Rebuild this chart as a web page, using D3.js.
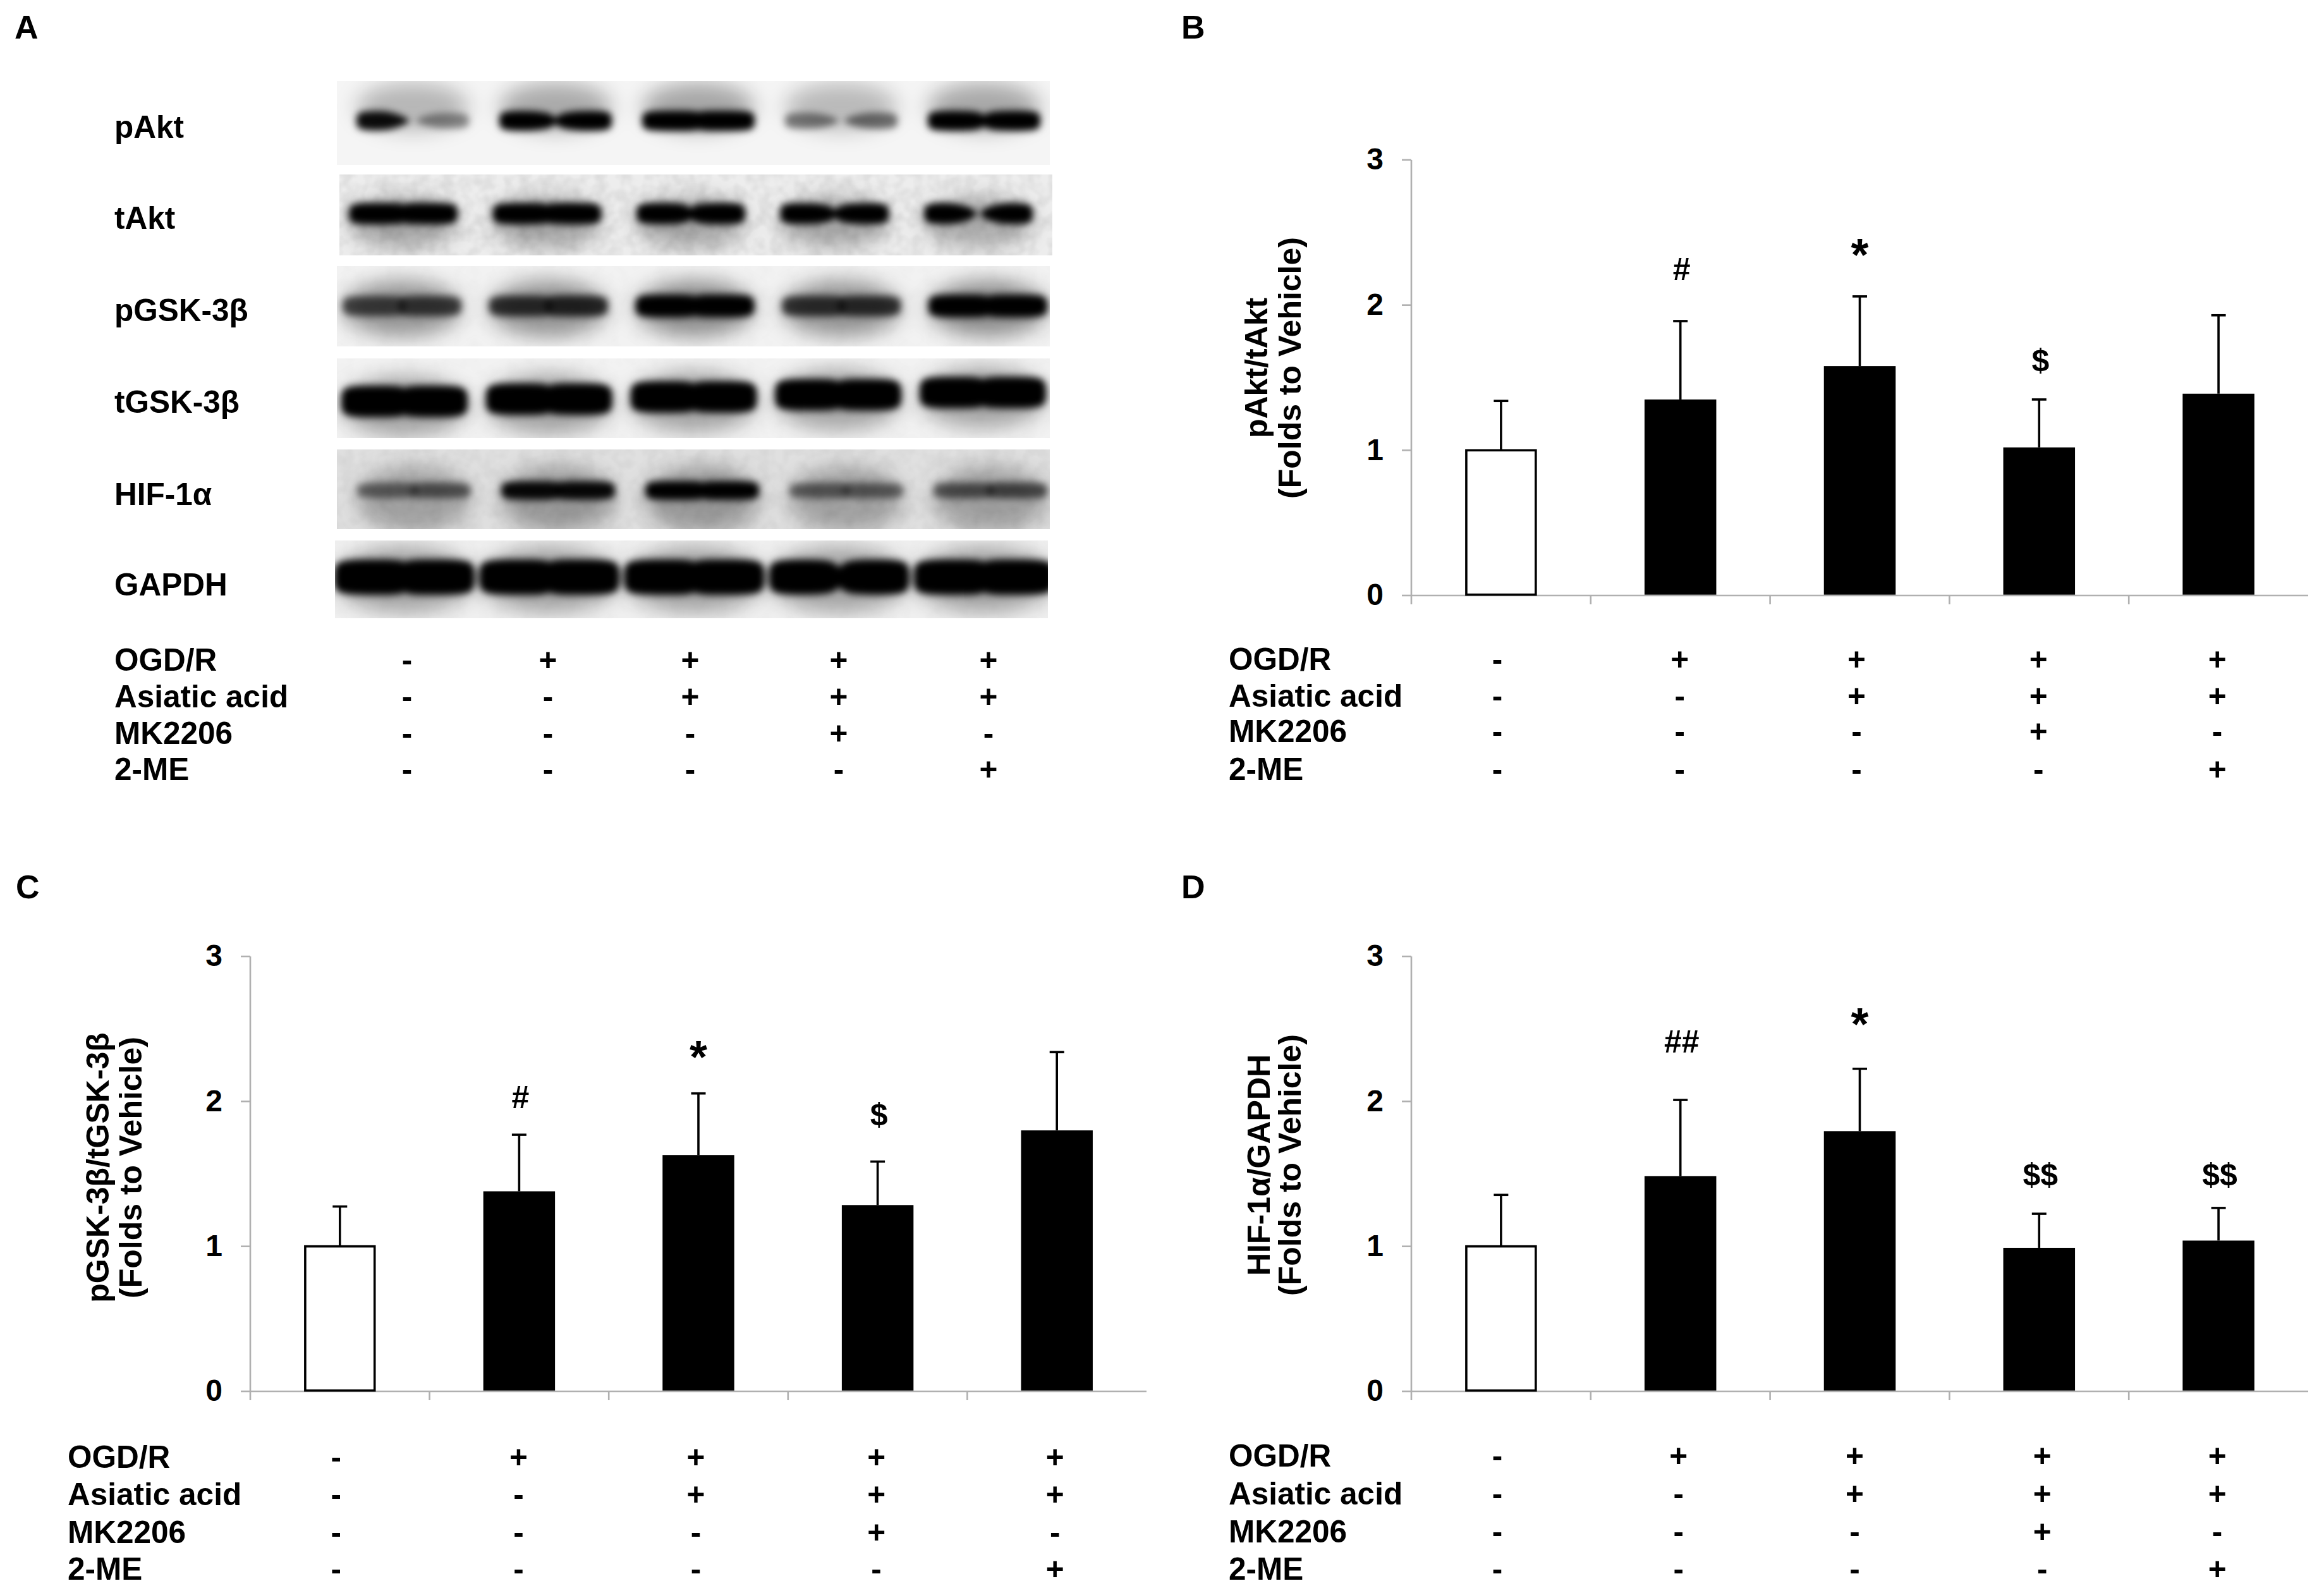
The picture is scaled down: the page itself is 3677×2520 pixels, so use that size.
<!DOCTYPE html>
<html>
<head>
<meta charset="utf-8">
<script src="https://cdn.jsdelivr.net/npm/d3@7"></script>
<style>
html,body{margin:0;padding:0;background:#fff}
svg{display:block}
text{font-family:"Liberation Sans",Arial,sans-serif;font-weight:700;fill:#000}
</style>
</head>
<body>
<svg id="fig" width="3677" height="2520"></svg>
<script>
// ---------- data ----------
const lanes = ["L1","L2","L3","L4","L5"];
const treatmentNames = ["OGD/R","Asiatic acid","MK2206","2-ME"];
const ogdR    = ["-","+","+","+","+"];
const asiatic = ["-","-","+","+","+"];
const mk2206  = ["-","-","-","+","-"];
const twoME   = ["-","-","-","-","+"];
const treatments = [ogdR, asiatic, mk2206, twoME];
const yTicks = [0,1,2,3];

const pAktMeans = [1.00,1.35,1.58,1.02,1.39];
const pAktTops  = [1.34,1.89,2.06,1.35,1.93];
const pAktMarks = ["","#","*","$",""];
const pAktMarkAt = [0,2.25,2.39,1.62,0];

const pGskMeans = [1.00,1.38,1.63,1.285,1.80];
const pGskTops  = [1.275,1.77,2.055,1.585,2.34];
const pGskMarks = ["","#","*","$",""];
const pGskMarkAt = [0,2.03,2.35,1.91,0];

const hifMeans = [1.00,1.485,1.795,0.99,1.04];
const hifTops  = [1.355,2.01,2.225,1.225,1.265];
const hifMarks = ["","##","*","$$","$$"];
const hifMarkAt = [0,2.415,2.575,1.50,1.50];

const blotNames = ["pAkt","tAkt","pGSK-3β","tGSK-3β","HIF-1α","GAPDH"];
// density of each band: left lobe, neck, right lobe (0..1)
const pAktBands = [[.95,.1,.42],[1,.65,1],[1,1,1],[.48,.15,.52],[1,.88,1]];
const tAktBands = [[1,1,1],[1,1,1],[1,.85,1],[1,.7,1],[1,.3,1]];
const pGskBands = [[.66,1,.7],[.76,1,.8],[1,1,1],[.74,1,.76],[1,1,1]];
const tGskBands = [[1,1,1],[1,1,1],[1,1,1],[1,1,1],[1,1,1]];
const hifBands  = [[.5,1,.56],[.96,1,.96],[1,1,1],[.52,1,.52],[.58,1,.62]];
const gapdhBands = [[1,1,1],[1,1,1],[1,1,1],[1,.9,1],[1,1,1]];
const blotBands = [pAktBands,tAktBands,pGskBands,tGskBands,hifBands,gapdhBands];

// ---------- layout ----------
const FONT = 49.5;
const svg = d3.select("#fig");
const defs = svg.append("defs");
function blur(id,s){
  defs.append("filter").attr("id",id).attr("filterUnits","userSpaceOnUse")
    .attr("x",0).attr("y",0).attr("width",3677).attr("height",2520)
    .append("feGaussianBlur").attr("stdDeviation",s);
}
blur("bCore",6); blur("bHalo",16);
const noise = defs.append("filter").attr("id","grain").attr("filterUnits","userSpaceOnUse")
  .attr("x",0).attr("y",0).attr("width",3677).attr("height",2520);
noise.append("feTurbulence").attr("type","fractalNoise").attr("baseFrequency",0.05).attr("numOctaves",2).attr("seed",4);
noise.append("feColorMatrix").attr("type","matrix")
  .attr("values","0 0 0 0 0  0 0 0 0 0  0 0 0 0 0  1.2 0 0 0 -0.4");

function label(x,y,t,fs,anchor,weight){
  return svg.append("text").attr("x",x).attr("y",y+fs*0.35)
    .attr("font-size",fs).attr("text-anchor",anchor||"start")
    .attr("font-weight",weight||700).text(t);
}
["A","B","C","D"].forEach((t,i)=>{
  label([23,1869,25,1869][i],[43,43,1403,1403][i],t,52);
});

// ----- panel A: blot -----
const panelLeft  = [533,537,533,533,533,530];
const panelTop   = [128,276,421,567,711,855];
const panelBot   = [261,404,548,693,837,978];
const panelW = 1128;
const laneFirst  = [653,638,636,640,655,640];
const laneLast   = [1557,1548,1563,1555,1567,1557];
const bandFirstY = [191,338,484,635,776,913];
const bandLastY  = [191,338,484,621,776,913];
const bandThick  = [32,34,36,50,30,56];
const bandWidth  = [178,172,188,200,180,222];
const bgGray     = [.04,.07,.05,.05,.12,.06];
const haloGray   = [.32,.30,.42,.32,.32,.32];
const haloShift  = [-22,14,4,8,14,4];
const haloRy     = [38,40,44,48,52,52];
const grainGray  = [0,.12,.02,.02,.07,.02];
const rowLabelY  = [201,345,491,636,782,925];

blotNames.forEach((name,r)=>{
  label(181,rowLabelY[r],name,FONT);
  const clipId="clip"+r;
  const h = panelBot[r]-panelTop[r];
  defs.append("clipPath").attr("id",clipId).append("rect")
    .attr("x",panelLeft[r]).attr("y",panelTop[r]).attr("width",panelW).attr("height",h);
  const g = svg.append("g").attr("clip-path",`url(#${clipId})`);
  const lvl = Math.round(255*(1-bgGray[r]));
  g.append("rect").attr("x",panelLeft[r]).attr("y",panelTop[r]).attr("width",panelW).attr("height",h)
    .attr("fill",d3.rgb(lvl,lvl,lvl));
  const lx = d3.scalePoint().domain(lanes).range([laneFirst[r],laneLast[r]]);
  const ly = d3.scalePoint().domain(lanes).range([bandFirstY[r],bandLastY[r]]);
  const bands = blotBands[r].map((d,i)=>({lane:lanes[i],d}));
  const w = bandWidth[r], t = bandThick[r];
  g.append("g").attr("filter","url(#bHalo)").selectAll("ellipse").data(bands).join("ellipse")
    .attr("cx",b=>lx(b.lane)).attr("cy",b=>ly(b.lane)+haloShift[r])
    .attr("rx",w*.5).attr("ry",haloRy[r])
    .attr("fill","#000").attr("fill-opacity",b=>haloGray[r]*(.6+.4*d3.mean(b.d)));
  if(grainGray[r]>0){
    g.append("rect").attr("x",panelLeft[r]).attr("y",panelTop[r]).attr("width",panelW).attr("height",h)
      .attr("filter","url(#grain)").attr("opacity",grainGray[r]);
  }
  // one soft band per lane, drawn as a path whose outline pinches at the neck
  const hw = (v)=>t/2*(.62+.38*v);
  const outline = d3.area().curve(d3.curveBasis)
    .x(p=>p.x).y0(p=>p.c-p.h).y1(p=>p.c+p.h);
  const lobes = bands.flatMap(b=>{
    const c = ly(b.lane), x0 = lx(b.lane), neck = b.d[1];
    const prof = (sl,sr,hl,hr)=>[
      {x:x0+sl*w,c,h:0},{x:x0+sl*w,c,h:hl*.75},{x:x0+sl*w*.8,c,h:hl},{x:x0+(sl+sr)/2*w,c,h:Math.max(hl,hr)},
      {x:x0+sr*w*.8,c,h:hr},{x:x0+sr*w,c,h:hr*.75},{x:x0+sr*w,c,h:0}];
    const gap = neck>=1 ? 0 : (1-neck)*.06;
    const mid = t/2*(.2+.8*neck);
    return [
      {v:b.d[0],pts:[{x:x0-w*.5,c,h:0},{x:x0-w*.5,c,h:hw(b.d[0])*.8},{x:x0-w*.4,c,h:hw(b.d[0])},{x:x0-w*.2,c,h:hw(b.d[0])},{x:x0-gap*w,c,h:Math.min(mid,hw(b.d[0]))},{x:x0+(neck>=1?.02*w:-gap*w+.03*w),c,h:neck>=1?hw(b.d[0])*.6:0}]},
      {v:b.d[2],pts:[{x:x0+w*.5,c,h:0},{x:x0+w*.5,c,h:hw(b.d[2])*.8},{x:x0+w*.4,c,h:hw(b.d[2])},{x:x0+w*.2,c,h:hw(b.d[2])},{x:x0+gap*w,c,h:Math.min(mid,hw(b.d[2]))},{x:x0-(neck>=1?.02*w:-gap*w+.03*w),c,h:neck>=1?hw(b.d[2])*.6:0}]}
    ];
  });
  g.append("g").attr("filter","url(#bCore)").selectAll("path").data(lobes).join("path")
    .attr("d",l=>outline(l.pts))
    .attr("fill","#000").attr("fill-opacity",l=>l.v);
});

function table(labelX,rowYs,colX){
  treatmentNames.forEach((n,r)=>{
    label(labelX,rowYs[r],n,FONT);
    treatments[r].forEach((s,c)=>label(colX(c),rowYs[r],s,FONT,"middle"));
  });
}
const aCols = d3.scalePoint().domain(lanes).range([644,1564]);
const aNudge = [0,-7,-12,-7,0];
table(181,[1044,1102,1160,1217],c=>aCols(lanes[c])+aNudge[c]);

// ----- bar panels -----
function barPanel(o){
  const xEdge = d3.scaleLinear().domain([0,5]).range([o.x0,o.x1]);
  const x = d3.scaleBand().domain(lanes).range([o.x0,o.x1]).paddingInner(.6).paddingOuter(.3);
  const y = d3.scaleLinear().domain([0,3]).range([o.y0,o.y3]);
  const axisColor = "#b0b0b0", axisW = 2.6;
  const gy = svg.append("g").attr("transform",`translate(${o.x0},0)`)
    .call(d3.axisLeft(y).tickValues(yTicks).tickFormat(d3.format("d")).tickSize(15).tickSizeOuter(0).tickPadding(29).offset(0));
  gy.selectAll("path,line").attr("stroke",axisColor).attr("stroke-width",axisW);
  gy.selectAll("text").attr("font-size",48).attr("font-family","Liberation Sans").attr("font-weight",700).attr("fill","#000");
  const gx = svg.append("g").attr("transform",`translate(0,${o.y0})`)
    .call(d3.axisBottom(xEdge).tickValues(d3.range(0,5)).tickSize(14).tickSizeOuter(0).tickFormat("").offset(0));
  gx.selectAll("path,line").attr("stroke",axisColor).attr("stroke-width",axisW);

  const sw = 3.6, capW = 23;
  const rows = lanes.map((l,i)=>({l,i,m:o.means[i],t:o.tops[i],mk:o.marks[i],at:o.markAt[i]}));
  const cx = d=>x(d.l)+x.bandwidth()/2;
  svg.append("g").selectAll("line").data(rows).join("line")
    .attr("x1",cx).attr("x2",cx).attr("y1",d=>y(d.m)).attr("y2",d=>y(d.t))
    .attr("stroke","#000").attr("stroke-width",sw);
  svg.append("g").selectAll("line").data(rows).join("line")
    .attr("x1",d=>cx(d)-capW/2).attr("x2",d=>cx(d)+capW/2).attr("y1",d=>y(d.t)).attr("y2",d=>y(d.t))
    .attr("stroke","#000").attr("stroke-width",sw);
  svg.append("g").selectAll("rect").data(rows).join("rect")
    .attr("x",d=>x(d.l)+(d.i?0:sw/2)).attr("width",d=>x.bandwidth()-(d.i?0:sw))
    .attr("y",d=>y(d.m)).attr("height",d=>y(0)-y(d.m)-1.3)
    .attr("fill",d=>d.i?"#000":"#fff")
    .attr("stroke",d=>d.i?"none":"#000").attr("stroke-width",sw);

  rows.filter(d=>d.mk).forEach(d=>{
    const star = d.mk==="*";
    const fs = star?72:50;
    svg.append("text").attr("x",cx(d)+(star?0:2)).attr("y",y(d.at)+(star?fs*.48:fs*.35))
      .attr("font-size",fs).attr("text-anchor","middle").text(d.mk);
  });

  // rotated two-line title
  o.title.forEach((t,i)=>{
    svg.append("text").attr("transform",`translate(${o.titleX[i]},${o.titleY}) rotate(-90)`)
      .attr("font-size",50).attr("text-anchor","middle").text(t);
  });

  table(o.labelX,o.rowYs,c=>x(lanes[c])+x.bandwidth()/2+o.nudge[c]);
}

barPanel({x0:2233,x1:3652,y0:942,y3:253,means:pAktMeans,tops:pAktTops,marks:pAktMarks,markAt:pAktMarkAt,
  title:["pAkt/tAkt","(Folds to Vehicle)"],titleX:[2005,2058],titleY:582,
  labelX:1944,rowYs:[1043,1101,1157,1217],nudge:[-6,-1,-5,-1,-2]});
barPanel({x0:396,x1:1814,y0:2201,y3:1513,means:pGskMeans,tops:pGskTops,marks:pGskMarks,markAt:pGskMarkAt,
  title:["pGSK-3β/tGSK-3β","(Folds to Vehicle)"],titleX:[172,224],titleY:1847,
  labelX:107,rowYs:[2305,2364,2424,2482],nudge:[-6,-1,-4,-2,-3]});
barPanel({x0:2233,x1:3652,y0:2201,y3:1513,means:hifMeans,tops:hifTops,marks:hifMarks,markAt:hifMarkAt,
  title:["HIF-1α/GAPDH","(Folds to Vehicle)"],titleX:[2009,2058],titleY:1843,
  labelX:1944,rowYs:[2303,2363,2423,2482],nudge:[-6,-3,-8,5,-2]});
</script>
</body>
</html>
